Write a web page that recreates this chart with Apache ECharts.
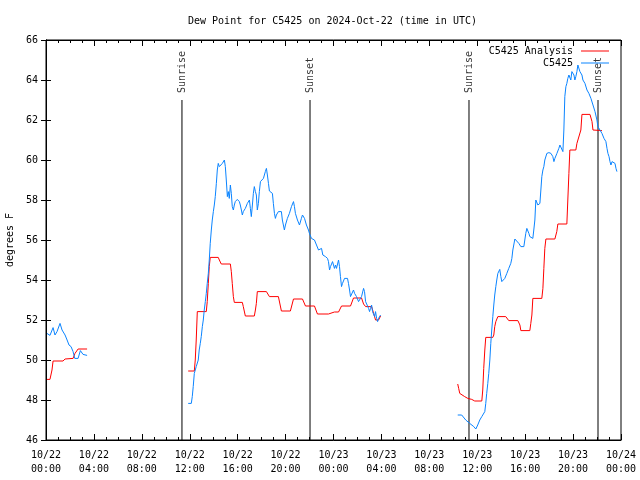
<!DOCTYPE html>
<html>
<head>
<meta charset="utf-8">
<script src="https://cdn.jsdelivr.net/npm/echarts@6/dist/echarts.min.js"></script>
<style>html,body{margin:0;padding:0;background:#fff}#c{width:640px;height:480px}</style>
</head>
<body>
<div id="c"></div>
<script>
// Hours since 2024-10-22 00:00 UTC; null marks a gap in data
const obsHours = [0.08,0.33,0.59,0.75,0.92,1.17,1.34,1.59,1.76,1.92,2.09,2.26,2.40,2.68,2.87,3.09,3.43,
  7.5,
  11.87,12.13,12.21,12.29,12.38,12.54,12.71,12.79,12.88,12.96,13.05,13.13,13.21,13.30,13.38,13.46,13.55,13.63,13.71,13.80,13.88,13.97,14.05,14.13,14.22,14.30,14.38,14.47,14.55,14.63,14.72,14.89,14.97,15.05,15.14,15.22,15.30,15.39,15.47,15.55,15.64,15.72,15.80,15.97,16.14,16.22,16.31,16.39,16.47,16.64,16.81,16.98,17.06,17.14,17.23,17.31,17.39,17.48,17.56,17.64,17.73,17.81,17.90,18.06,18.15,18.23,18.31,18.40,18.48,18.57,18.65,18.90,18.98,19.07,19.15,19.23,19.40,19.65,19.73,19.90,19.99,20.15,20.32,20.49,20.66,20.74,20.82,20.99,21.16,21.32,21.41,21.58,21.74,21.91,21.99,22.16,22.41,22.58,22.75,22.83,23.00,23.11,23.33,23.50,23.58,23.67,23.75,23.92,24.08,24.17,24.25,24.42,24.50,24.58,24.67,24.75,24.92,25.17,25.25,25.34,25.42,25.50,25.67,25.76,25.92,26.09,26.17,26.34,26.51,26.59,26.68,26.76,26.93,27.01,27.09,27.18,27.26,27.43,27.51,27.60,27.68,27.76,27.93,
  31.0,
  34.37,34.70,35.04,35.37,35.71,35.88,36.04,36.21,36.38,36.63,36.71,36.79,36.88,36.96,37.05,37.13,37.21,37.30,37.38,37.46,37.55,37.63,37.72,37.88,37.97,38.05,38.13,38.30,38.47,38.63,38.80,38.89,38.97,39.14,39.30,39.47,39.64,39.89,39.97,40.05,40.14,40.22,40.31,40.39,40.47,40.64,40.72,40.81,40.89,40.97,41.06,41.14,41.23,41.31,41.39,41.48,41.56,41.64,41.81,41.98,42.15,42.31,42.40,42.48,42.65,42.81,42.90,42.98,43.06,43.15,43.23,43.31,43.40,43.48,43.56,43.65,43.73,43.81,43.90,43.98,44.07,44.15,44.23,44.32,44.40,44.48,44.57,44.65,44.74,44.82,44.99,45.16,45.32,45.49,45.66,45.83,45.99,46.07,46.24,46.41,46.58,46.74,46.83,46.91,47.00,47.08,47.16,47.25,47.41,47.50,47.58,47.66];
const obsDew = [51.33,51.23,51.62,51.25,51.42,51.83,51.5,51.25,51.0,50.75,50.67,50.42,50.08,50.08,50.47,50.28,50.23,
  null,
  47.83,47.83,48.17,48.67,49.33,49.67,50.0,50.5,50.83,51.17,51.67,52.0,52.5,52.92,53.33,53.83,54.33,55.0,55.83,56.5,57.0,57.42,57.75,58.17,58.83,59.5,59.83,59.67,59.75,59.58,59.83,60.0,59.67,59.0,58.17,58.42,58.08,58.75,58.33,57.67,57.5,57.75,57.92,58.03,57.92,57.75,57.5,57.25,57.42,57.58,57.83,58.0,57.58,57.17,57.75,58.33,58.67,58.42,58.25,57.5,57.83,58.42,58.92,58.92,59.08,59.25,59.42,59.58,59.25,58.83,58.45,58.33,57.83,57.33,57.08,57.25,57.42,57.42,57.0,56.5,56.75,57.08,57.33,57.67,57.92,57.67,57.33,57.0,56.75,57.08,57.25,57.08,56.75,56.5,56.33,56.08,56.0,55.75,55.5,55.58,55.58,55.25,55.17,55.08,54.92,54.5,54.67,54.92,54.58,54.75,54.58,55.0,54.67,54.17,53.67,53.83,54.08,54.08,53.83,53.5,53.17,53.25,53.5,53.33,53.17,52.92,52.83,53.17,53.58,53.42,52.92,52.83,52.58,52.42,52.58,52.75,52.42,52.17,52.42,52.08,51.92,52.08,52.25,
  null,
  47.25,47.25,47.0,46.83,46.67,46.55,46.75,47.0,47.17,47.42,47.83,48.33,48.83,49.33,50.0,50.83,51.5,52.17,52.75,53.25,53.67,54.0,54.33,54.53,54.17,53.92,53.83,54.08,54.33,54.58,54.83,55.08,55.5,56.05,56.0,55.83,55.67,55.67,56.0,56.33,56.58,56.5,56.33,56.17,56.08,56.08,56.5,57.0,58.0,57.97,57.75,57.67,57.83,58.5,59.17,59.5,59.67,60.0,60.33,60.37,60.33,60.17,59.92,60.08,60.33,60.58,60.75,60.83,60.67,60.42,61.5,63.17,63.67,63.83,64.08,64.25,64.25,64.0,64.42,64.5,64.25,64.0,64.17,64.42,64.75,64.67,64.42,64.33,64.25,64.0,63.83,63.5,63.33,63.08,62.75,62.42,62.0,61.67,61.5,61.33,61.08,60.92,60.58,60.33,60.17,59.92,59.75,59.92,60.0,59.83,59.58,59.42];

const anaHours = [0.08,0.33,0.50,0.59,1.42,1.59,2.26,2.42,2.68,3.43,
  7.5,
  11.87,12.38,12.46,12.54,12.63,13.38,13.46,13.55,13.63,13.71,14.38,14.47,14.63,15.39,15.47,15.55,15.64,15.72,16.39,16.47,16.64,17.39,17.48,17.56,17.64,18.40,18.48,18.65,19.40,19.65,20.40,20.66,21.41,21.66,22.41,22.66,23.58,24.08,24.42,24.67,25.42,25.67,26.34,26.51,26.68,27.18,27.35,27.51,27.76,27.93,
  31.0,
  34.37,34.45,34.54,34.70,34.95,35.21,35.54,35.79,36.38,36.46,36.54,36.63,36.71,37.30,37.38,37.46,37.55,37.72,38.38,38.63,39.39,39.56,39.64,40.39,40.47,40.56,40.64,41.39,41.48,41.56,41.64,41.73,42.48,42.64,42.73,43.48,43.56,43.65,43.73,44.23,44.32,44.65,44.74,45.41,45.58,45.66,46.41];
const anaDew = [49.03,49.03,49.5,49.95,49.95,50.05,50.08,50.33,50.55,50.55,
  null,
  49.45,49.45,50.0,51.0,52.42,52.42,52.92,53.83,54.67,55.13,55.13,55.0,54.8,54.8,54.42,53.83,53.17,52.88,52.88,52.67,52.2,52.2,52.5,52.83,53.42,53.42,53.33,53.17,53.17,52.45,52.45,53.05,53.05,52.7,52.7,52.3,52.3,52.4,52.4,52.7,52.7,53.1,53.1,52.8,52.67,52.67,52.33,52.0,52.0,52.2,
  null,
  48.8,48.58,48.33,48.25,48.17,48.08,48.03,47.95,47.95,48.5,49.58,50.5,51.13,51.13,51.25,51.67,51.92,52.17,52.17,51.97,51.97,51.75,51.47,51.47,51.83,52.25,53.08,53.08,53.58,54.58,55.58,56.05,56.05,56.42,56.8,56.8,58.0,59.33,60.5,60.5,60.83,61.5,62.28,62.28,61.92,61.5,61.47];

const eventHours = [11.35, 22.04, 35.31, 46.08];
const eventNames = ['Sunrise', 'Sunset', 'Sunrise', 'Sunset'];
const eventTop = 63;
const yTicks = [46, 66, 2];
const xTicks = [0, 48, 4];

const FONT = 'DejaVu Sans Mono';
const toData = (hs, vs) => hs.map((h, i) => [h, vs[i] === null ? '-' : vs[i]]);
const evLines = [];
eventHours.forEach(h => { evLines.push([h, yTicks[0]], [h, eventTop], [h, '-']); });
const evLabels = eventHours.map((h, i) => ({ value: [h, eventTop], name: eventNames[i] }));

const xfmt = v => {
  const d = 22 + Math.floor(v / 24);
  const hh = v % 24;
  return '10/' + d + '\n' + (hh < 10 ? '0' : '') + hh + ':00';
};

const axisCommon = {
  axisLine: { show: true, lineStyle: { color: '#000', width: 1 } },
  splitLine: { show: false }
};

const chart = echarts.init(document.getElementById('c'), null, { renderer: 'canvas' });
chart.setOption({
  animation: false,
  backgroundColor: '#fff',
  textStyle: { fontFamily: FONT },
  title: {
    text: 'Dew Point for C5425 on 2024-Oct-22 (time in UTC)',
    left: 183, top: 11,
    textStyle: { fontFamily: FONT, fontSize: 10, fontWeight: 'normal', color: '#000' }
  },
  legend: {
    data: [{ name: 'C5425 Analysis', icon: 'rect' }, { name: 'C5425', icon: 'rect' }],
    orient: 'vertical', align: 'right',
    right: 26, top: 41,
    itemWidth: 28, itemHeight: 1, itemGap: 2,
    textStyle: { fontFamily: FONT, fontSize: 10, color: '#000', padding: [0, 3, 0, 0] }
  },
  grid: { left: 46, right: 19, top: 40, bottom: 40, containLabel: false, outerBoundsMode: 'none', show: true, borderColor: '#000', borderWidth: 1 },
  xAxis: [
    Object.assign({}, axisCommon, {
      type: 'value', min: xTicks[0], max: xTicks[1], interval: xTicks[2], position: 'bottom',
      axisTick: { inside: true, length: 6, lineStyle: { color: '#000' } },
      minorTick: { show: true, splitNumber: 4, length: 3, lineStyle: { color: '#000' } },
      axisLabel: { formatter: xfmt, fontFamily: FONT, fontSize: 10, color: '#000', margin: 8, lineHeight: 14 }
    }),
    Object.assign({}, axisCommon, {
      type: 'value', min: xTicks[0], max: xTicks[1], interval: xTicks[2], position: 'top',
      axisTick: { inside: true, length: 6, lineStyle: { color: '#000' } },
      minorTick: { show: true, splitNumber: 4, length: 3, lineStyle: { color: '#000' } },
      axisLabel: { show: false }
    })
  ],
  yAxis: [
    Object.assign({}, axisCommon, {
      type: 'value', min: yTicks[0], max: yTicks[1], interval: yTicks[2], position: 'left',
      name: 'degrees F', nameLocation: 'middle', nameGap: 30, nameRotate: 90,
      nameTextStyle: { fontFamily: FONT, fontSize: 10, color: '#000' },
      axisTick: { inside: true, length: 5, lineStyle: { color: '#000' } },
      axisLabel: { fontFamily: FONT, fontSize: 10, color: '#000', margin: 8 }
    }),
    Object.assign({}, axisCommon, {
      type: 'value', min: yTicks[0], max: yTicks[1], interval: yTicks[2], position: 'right',
      axisTick: { inside: true, length: 5, lineStyle: { color: '#000' } },
      axisLabel: { show: false }
    })
  ],
  series: [
    {
      name: 'C5425 Analysis', type: 'line', data: toData(anaHours, anaDew),
      symbol: 'none', connectNulls: false,
      lineStyle: { color: '#ff0000', width: 1 }, itemStyle: { color: '#ff0000' }, z: 3
    },
    {
      name: 'C5425', type: 'line', data: toData(obsHours, obsDew),
      symbol: 'none', connectNulls: false,
      lineStyle: { color: '#0a84ff', width: 1 }, itemStyle: { color: '#0a84ff' }, z: 3
    },
    {
      name: 'events', type: 'line', data: evLines, symbol: 'none', connectNulls: false,
      lineStyle: { color: '#000', width: 1 }, silent: true, z: 2
    },
    {
      name: 'eventLabels', type: 'scatter', data: evLabels, symbolSize: 0, silent: true,
      label: {
        show: true, position: 'top', distance: 7, rotate: 90, align: 'left', verticalAlign: 'middle',
        formatter: p => p.name, fontFamily: FONT, fontSize: 10, color: '#000'
      }
    }
  ]
});
</script>
</body>
</html>
